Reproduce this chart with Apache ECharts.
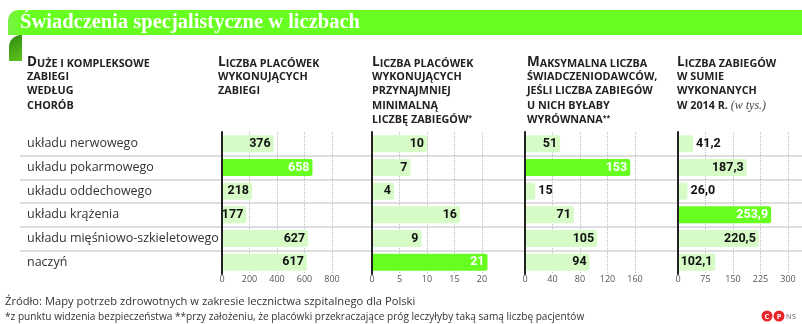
<!DOCTYPE html>
<html>
<head>
<meta charset="utf-8">
<script src="https://cdn.jsdelivr.net/npm/echarts@6/dist/echarts.min.js"></script>
<style>
  html, body { margin: 0; padding: 0; background: #fff; }
  #chart { width: 802px; height: 324px; }
</style>
</head>
<body>
<div id="chart"></div>
<script>
const categories = ['układu nerwowego', 'układu pokarmowego', 'układu oddechowego', 'układu krążenia', 'układu mięśniowo-szkieletowego', 'naczyń']
const placowki = [376, 658, 218, 177, 627, 617]
const placowkiMinimum = [10, 7, 4, 16, 9, 21]
const maxSwiadczeniodawcow = [51, 153, 15, 71, 105, 94]
const zabiegi2014 = [41.2, 187.3, 26.0, 253.9, 220.5, 102.1]

const axisMax = [800, 20, 160, 300]
const axisStep = [200, 5, 40, 75]

const headers = [
  ['Duże i kompleksowe', 'zabiegi', 'według', 'chorób'],
  ['Liczba placówek', 'wykonujących', 'zabiegi'],
  ['Liczba placówek', 'wykonujących', 'przynajmniej', 'minimalną', 'liczbę zabiegów*'],
  ['Maksymalna liczba', 'świadczeniodawców,', 'jeśli liczba zabiegów', 'u nich byłaby', 'wyrównana**'],
  ['Liczba zabiegów', 'w sumie', 'wykonanych', 'w 2014 r. (w tys.)']
]

const titleText = 'Świadczenia specjalistyczne w liczbach'
const sourceText = 'Źródło: Mapy potrzeb zdrowotnych w zakresie lecznictwa szpitalnego dla Polski'
const notesText = '*z punktu widzenia bezpieczeństwa **przy założeniu, że placówki przekraczające próg leczyłyby taką samą liczbę pacjentów'

// layout
const panelData = [placowki, placowkiMinimum, maxSwiadczeniodawcow, zabiegi2014]
const panelDecimals = [0, 0, 0, 1]
const panelLeft = [222, 372, 525, 678]
const headerLeft = [27, 218, 372, 527, 677]
const panelWidth = 110
const gridTop = 132
const gridHeight = 142
const rowHeight = gridHeight / categories.length

const BRIGHT = '#66ff1f'
const LIGHT = '#d6fbc6'
const numFont = 'Roboto, sans-serif'
const capsFont = '"Open Sans", sans-serif'

const fmt = (v, d) => v.toFixed(d).replace('.', ',')

const chart = echarts.init(document.getElementById('chart'))

const grids = []
const xAxes = []
const yAxes = []
const series = []

panelData.forEach((data, i) => {
  grids.push({ left: panelLeft[i], top: gridTop, width: panelWidth, height: gridHeight })
  xAxes.push({
    gridIndex: i,
    type: 'value',
    min: 0,
    max: axisMax[i],
    interval: axisStep[i],
    axisLine: { show: false },
    axisTick: { show: false },
    axisLabel: { color: '#555', fontSize: 9, fontFamily: capsFont, margin: 1 },
    splitLine: { lineStyle: { type: 'dotted', color: '#bdbdbd', width: 1 } }
  })
  yAxes.push({
    gridIndex: i,
    type: 'category',
    inverse: true,
    data: categories,
    axisLine: { lineStyle: { color: '#222', width: 2 } },
    axisTick: { show: false },
    axisLabel: i === 0
      ? { show: true, align: 'left', margin: panelLeft[0] - headerLeft[0], color: '#333', fontSize: 12.5, fontFamily: capsFont }
      : { show: false },
    z: 3
  })
  const top = Math.max(...data)
  series.push({
    type: 'bar',
    xAxisIndex: i,
    yAxisIndex: i,
    barWidth: 17,
    clip: false,
    data: data.map(v => {
      const text = fmt(v, panelDecimals[i])
      const px = v / axisMax[i] * panelWidth
      const outside = px < text.length * 6.4 + 3
      const isTop = v === top
      return {
        value: v,
        itemStyle: { color: isTop ? BRIGHT : LIGHT, borderRadius: [0, 2, 2, 0] },
        label: {
          position: outside ? 'right' : 'insideRight',
          distance: 3,
          color: isTop ? '#fff' : '#111'
        }
      }
    }),
    label: {
      show: true,
      fontFamily: numFont,
      fontWeight: 'bold',
      fontSize: 12.5,
      formatter: p => fmt(p.value, panelDecimals[i])
    }
  })
})

// row separators: one line between each pair of rows
grids.push({ left: 20, right: 0, top: gridTop + rowHeight, height: rowHeight * (categories.length - 2) })
xAxes.push({ gridIndex: 4, type: 'value', show: false })
yAxes.push({
  gridIndex: 4,
  type: 'value',
  min: 0,
  max: categories.length - 2,
  interval: 1,
  axisLine: { show: false },
  axisTick: { show: false },
  axisLabel: { show: false },
  splitLine: { lineStyle: { color: '#dedede', width: 2 } },
  z: 0
})

// header rich text in small caps
const capsRich = {
  b: { fontFamily: capsFont, fontWeight: 'bold', fontSize: 13.5, fill: '#222', verticalAlign: 'bottom' },
  s: { fontFamily: capsFont, fontWeight: 'bold', fontSize: 10.8, fill: '#222', verticalAlign: 'bottom' },
  sup: { fontFamily: capsFont, fontWeight: 'bold', fontSize: 7, fill: '#222', verticalAlign: 'top' },
  it: { fontFamily: '"Liberation Serif", serif', fontStyle: 'italic', fontSize: 12, fill: '#444', verticalAlign: 'bottom' }
}

const capsLine = (line, first) => {
  let out = ''
  let rest = line
  let tail = ''
  const par = rest.indexOf('(')
  if (par >= 0) { tail += '{it|' + rest.slice(par) + '}'; rest = rest.slice(0, par) }
  const stars = rest.match(/\*+$/)
  if (stars) { tail = '{sup|' + stars[0] + '}' + tail; rest = rest.slice(0, -stars[0].length) }
  if (first) { out += '{b|' + rest[0].toUpperCase() + '}'; rest = rest.slice(1) }
  out += '{s|' + rest.toUpperCase() + '}'
  return out + tail
}

const graphics = []

// title band
graphics.push({
  type: 'rect',
  shape: { x: 8, y: 10, width: 794, height: 25, r: [10, 0, 0, 0] },
  style: {
    fill: new echarts.graphic.LinearGradient(0, 0, 1, 0, [
      { offset: 0, color: '#7cf04a' },
      { offset: 0.02, color: BRIGHT },
      { offset: 1, color: BRIGHT }
    ])
  }
})
graphics.push({
  type: 'rect',
  shape: { x: 9, y: 35, width: 13, height: 26, r: [12, 0, 0, 0] },
  style: {
    fill: new echarts.graphic.LinearGradient(0, 0, 1, 1, [
      { offset: 0, color: '#2f8a0e' },
      { offset: 1, color: '#5cc41f' }
    ])
  }
})
graphics.push({
  type: 'text',
  style: {
    text: titleText, x: 20, y: 23, verticalAlign: 'middle',
    fill: '#fff', fontFamily: '"Liberation Serif", serif', fontWeight: 'bold', fontSize: 20.5
  }
})

headers.forEach((lines, c) => {
  lines.forEach((line, k) => {
    graphics.push({
      type: 'text',
      style: {
        text: capsLine(line, k === 0),
        rich: capsRich,
        x: headerLeft[c],
        y: 62 + k * 14.6,
        verticalAlign: 'middle'
      }
    })
  })
})

// footer
graphics.push({
  type: 'text',
  style: { text: sourceText, x: 5, y: 302, verticalAlign: 'middle', fill: '#333', fontFamily: capsFont, fontSize: 11.2 }
})
graphics.push({
  type: 'text',
  style: { text: notesText, x: 5, y: 317, verticalAlign: 'middle', fill: '#333', fontFamily: capsFont, fontSize: 10.1 }
})
;['C', 'P'].forEach((ch, k) => {
  graphics.push({
    type: 'circle',
    shape: { cx: 767 + k * 12, cy: 316, r: 5.5 },
    style: { fill: '#e8262a' }
  })
  graphics.push({
    type: 'text',
    style: { text: ch, x: 767 + k * 12, y: 316.5, align: 'center', verticalAlign: 'middle', fill: '#fff', fontFamily: capsFont, fontWeight: 'bold', fontSize: 7.5 }
  })
})
graphics.push({
  type: 'text',
  style: { text: 'NS', x: 786, y: 316.5, verticalAlign: 'middle', fill: '#666', fontFamily: capsFont, fontSize: 7.5 }
})

chart.setOption({
  animation: false,
  grid: grids,
  xAxis: xAxes,
  yAxis: yAxes,
  series: series,
  graphic: { elements: graphics }
})
</script>
</body>
</html>
